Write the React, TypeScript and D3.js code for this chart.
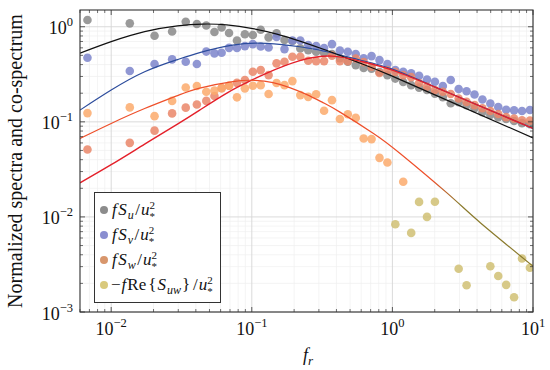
import React from 'react';
import * as d3 from 'd3';

const freq = [0.00678, 0.01356, 0.02034, 0.02712, 0.0339, 0.04068, 0.04746, 0.05424, 0.06102, 0.06889,
  0.07843, 0.08929, 0.1017, 0.1157, 0.1317, 0.15, 0.1708, 0.1944, 0.2213, 0.252,
  0.2869, 0.3266, 0.3718, 0.4233, 0.4819, 0.5486, 0.6245, 0.711, 0.8094, 0.9214,
  1.049, 1.194, 1.36, 1.548, 1.762, 2.006, 2.284, 2.6, 2.96, 3.37,
  3.837, 4.368, 4.972, 5.661, 6.444, 7.336, 8.352, 9.508];

const specU = [1.176, 1.086, 0.804, 0.890, 1.129, 1.068, 1.030, 0.880, 0.981, 0.858,
  0.716, 0.834, 0.818, 0.930, 0.773, 0.852, 0.724, 0.707, 0.592, 0.568,
  0.545, 0.532, 0.516, 0.468, 0.430, 0.395, 0.368, 0.363, 0.334, 0.310,
  0.285, 0.262, 0.243, 0.229, 0.216, 0.198, 0.182, 0.157, 0.161, 0.150,
  0.139, 0.126, 0.118, 0.112, 0.107, 0.102, 0.0969, 0.0946];

const specV = [0.472, 0.342, 0.405, 0.454, 0.428, 0.405, 0.548, 0.525, 0.532, 0.600,
  0.597, 0.626, 0.657, 0.619, 0.604, 0.779, 0.582, 0.716, 0.716, 0.642,
  0.626, 0.597, 0.657, 0.562, 0.545, 0.516, 0.465, 0.491, 0.446, 0.405,
  0.350, 0.336, 0.323, 0.305, 0.279, 0.264, 0.238, 0.275, 0.221, 0.210,
  0.194, 0.172, 0.156, 0.143, 0.134, 0.132, 0.130, 0.133];

const specW = [0.0512, 0.0601, 0.0808, 0.1226, 0.141, 0.152, 0.166, 0.187, 0.226, 0.240,
  0.257, 0.275, 0.336, 0.350, 0.310, 0.412, 0.428, 0.483, 0.483, 0.439,
  0.435, 0.435, 0.497, 0.435, 0.435, 0.463, 0.425, 0.379, 0.326, 0.350,
  0.334, 0.310, 0.295, 0.256, 0.235, 0.216, 0.207, 0.196, 0.176, 0.162,
  0.150, 0.139, 0.130, 0.121, 0.112, 0.108, 0.104, 0.103];

// co-spectrum, lower band (orange markers), aligned with freq
const cospecUWLow = [0.1235, 0.1418, 0.1148, 0.166, 0.230, 0.238, 0.207, 0.213, 0.226, 0.240,
  0.181, 0.225, 0.240, 0.243, 0.196, 0.256, 0.243, 0.268, 0.191, 0.183,
  0.195, 0.131, 0.169, 0.107, 0.120, 0.110, 0.0669, 0.0658, 0.0418, 0.0374,
  null, 0.0234];

// co-spectrum, upper band (olive markers)
const cospecUWHighFreq = [1.049, 1.36, 1.548, 1.762, 2.006, 2.96, 3.37, 4.972, 5.661, 6.444, 7.336, 8.352, 9.508];
const cospecUWHigh = [0.00838, 0.00679, 0.01438, 0.0100, 0.01445, 0.00285, 0.00191, 0.00303, 0.00239, 0.00193, 0.00143, 0.00365, 0.00292];

// model curves
const modelFreqU = [0.006, 0.01, 0.0173, 0.0296, 0.0447, 0.0663, 0.1016, 0.1508, 0.2198, 0.3424, 0.5886, 0.9788, 2.94, 10];
const modelU = [0.5286, 0.6984, 0.8902, 1.0221, 1.0676, 1.0471, 0.9574, 0.8379, 0.7071, 0.5619, 0.4148, 0.3064, 0.1499, 0.0677];

const modelFreqV = [0.006, 0.01, 0.0173, 0.0296, 0.0426, 0.0732, 0.1279, 0.2198, 0.3424, 0.5886, 1.0, 2.26, 10];
const modelV = [0.1328, 0.2157, 0.336, 0.4517, 0.5352, 0.6417, 0.6688, 0.616, 0.5455, 0.4467, 0.358, 0.216, 0.0852];

const modelFreqW = [0.006, 0.01, 0.0173, 0.0296, 0.0426, 0.0674, 0.0968, 0.1279, 0.2198, 0.3717, 0.5886, 1.0, 2.26, 10];
const modelW = [0.0228, 0.0354, 0.0582, 0.0946, 0.1328, 0.203, 0.2682, 0.3256, 0.4406, 0.4914, 0.4355, 0.35, 0.216, 0.0852];

const modelFreqUW = [0.006, 0.01, 0.0173, 0.0296, 0.0426, 0.0732, 0.1051, 0.1413, 0.186, 0.2466, 0.321, 0.4238, 0.729, 1.135, 2.454, 4.218, 10];
const modelUW = [0.0669, 0.0962, 0.138, 0.1888, 0.2263, 0.265, 0.2728, 0.2586, 0.2291, 0.1933, 0.1592, 0.1265, 0.076, 0.0465, 0.01777, 0.00869, 0.00303];

const xMajor = [0.01, 0.1, 1, 10];
const xMajorExp = ['−2', '−1', '0', '1'];
const yMajor = [0.001, 0.01, 0.1, 1];
const yMajorExp = ['−3', '−2', '−1', '0'];

const SERIF = 'Liberation Serif, DejaVu Serif, serif';

export default function App() {
  const L = 80, R = 533, T = 10, B = 312;
  const x = d3.scaleLog().domain([0.006, 10]).range([L, R]);
  const y = d3.scaleLog().domain([0.001, 1.5]).range([B, T]);

  const xMinor: number[] = [];
  for (let d = -3; d <= 0; d++) for (let k = 2; k <= 9; k++) {
    const v = k * Math.pow(10, d);
    if (v >= 0.006 && v <= 10) xMinor.push(v);
  }
  const yMinor: number[] = [];
  for (let d = -3; d <= 0; d++) for (let k = 2; k <= 9; k++) {
    const v = k * Math.pow(10, d);
    if (v >= 0.001 && v <= 1.5) yMinor.push(v);
  }

  const line = d3.line<[number, number]>()
    .x(d => x(d[0]))
    .y(d => y(d[1]))
    .curve(d3.curveNatural);
  const mk = (fx: number[], fy: number[]) => line(fx.map((f, i) => [f, fy[i]] as [number, number])) || '';

  const r = 4.3;
  const dots = (fx: number[], vals: (number | null)[], color: string, key: string) =>
    vals.map((v, i) => v == null ? null : (
      <circle key={key + i} cx={x(fx[i])} cy={y(v)} r={r} fill={color} fillOpacity={0.85} />
    ));

  const legendItems = [
    { color: '#8c8c8c', label: 'u' },
    { color: '#8a8ed0', label: 'v' },
    { color: '#d8966c', label: 'w' },
    { color: '#d9c97c', label: 'uw' },
  ];

  const txt = { fontFamily: SERIF };

  return (
    <svg width={550} height={370} style={{ position: 'absolute', left: 0, top: 0, background: '#fff' }}>
      <defs>
        <clipPath id="plotClip"><rect x={L} y={T} width={R - L} height={B - T} /></clipPath>
        <linearGradient id="uwGrad" gradientUnits="userSpaceOnUse" x1={x(1.9)} y1={0} x2={x(3.0)} y2={0}>
          <stop offset="0" stopColor="#ee4f2a" />
          <stop offset="1" stopColor="#8a7a2c" />
        </linearGradient>
      </defs>
      <rect x={L} y={T} width={R - L} height={B - T} fill="#fff" />
      {xMinor.map((v, i) => <line key={'xm' + i} x1={x(v)} x2={x(v)} y1={T} y2={B} stroke="#efefef" strokeWidth={0.7} />)}
      {yMinor.map((v, i) => <line key={'ym' + i} x1={L} x2={R} y1={y(v)} y2={y(v)} stroke="#efefef" strokeWidth={0.7} />)}
      {xMajor.map((v, i) => <line key={'xM' + i} x1={x(v)} x2={x(v)} y1={T} y2={B} stroke="#d6d6d6" strokeWidth={0.9} />)}
      {yMajor.map((v, i) => <line key={'yM' + i} x1={L} x2={R} y1={y(v)} y2={y(v)} stroke="#d6d6d6" strokeWidth={0.9} />)}

      <g clipPath="url(#plotClip)">
        {dots(freq, specU, '#888888', 'u')}
        {dots(freq, specV, '#7d85cb', 'v')}
        {dots(freq, specW, '#ea8668', 'w')}
        {dots(freq, cospecUWLow, '#fbaa6c', 'uwl')}
        {dots(cospecUWHighFreq, cospecUWHigh, '#d0c073', 'uwh')}

        <path d={mk(modelFreqV, modelV)} fill="none" stroke="#2c4c9c" strokeWidth={1.2} />
        <path d={mk(modelFreqU, modelU)} fill="none" stroke="#111" strokeWidth={1.2} />
        <path d={mk(modelFreqW, modelW)} fill="none" stroke="#e4202a" strokeWidth={1.4} />
        <path d={mk(modelFreqUW, modelUW)} fill="none" stroke="url(#uwGrad)" strokeWidth={1.2} />
      </g>

      {xMinor.map((v, i) => (
        <g key={'xtm' + i} stroke="#333" strokeWidth={0.7}>
          <line x1={x(v)} x2={x(v)} y1={B} y2={B - 3} />
          <line x1={x(v)} x2={x(v)} y1={T} y2={T + 3} />
        </g>
      ))}
      {yMinor.map((v, i) => (
        <g key={'ytm' + i} stroke="#333" strokeWidth={0.7}>
          <line x1={L} x2={L + 3} y1={y(v)} y2={y(v)} />
          <line x1={R} x2={R - 3} y1={y(v)} y2={y(v)} />
        </g>
      ))}
      {xMajor.map((v, i) => (
        <g key={'xtM' + i} stroke="#333" strokeWidth={0.8}>
          <line x1={x(v)} x2={x(v)} y1={B} y2={B - 5} />
          <line x1={x(v)} x2={x(v)} y1={T} y2={T + 5} />
        </g>
      ))}
      {yMajor.map((v, i) => (
        <g key={'ytM' + i} stroke="#333" strokeWidth={0.8}>
          <line x1={L} x2={L + 5} y1={y(v)} y2={y(v)} />
          <line x1={R} x2={R - 5} y1={y(v)} y2={y(v)} />
        </g>
      ))}
      <rect x={L} y={T} width={R - L} height={B - T} fill="none" stroke="#333" strokeWidth={1.1} />

      {xMajor.map((v, i) => (
        <text key={'xl' + i} x={x(v)} y={B + 23} textAnchor="middle" fontSize={18} fill="#111" style={txt}>
          10<tspan fontSize={12.5} dy={-8}>{xMajorExp[i]}</tspan>
        </text>
      ))}
      {yMajor.map((v, i) => (
        <text key={'yl' + i} x={73} y={y(v) + 7.5} textAnchor="end" fontSize={18} fill="#111" style={txt}>
          10<tspan fontSize={12.5} dy={-8}>{yMajorExp[i]}</tspan>
        </text>
      ))}

      <text x={303} y={361} fontSize={18} fontStyle="italic" fill="#111" style={txt}>
        f<tspan fontSize={13} dy={4}>r</tspan>
      </text>
      <text transform="translate(22,161) rotate(-90)" textAnchor="middle" fontSize={20} fill="#111" style={txt}>
        Normalized spectra and co-spectrum
      </text>

      <rect x={94.5} y={192.5} width={126} height={110} fill="#fff" stroke="#333" strokeWidth={1} />
      {legendItems.map((it, i) => {
        const ly = 210 + i * 25;
        return (
          <g key={'lg' + i}>
            <circle cx={104} cy={ly} r={4} fill={it.color} />
            {it.label !== 'uw' ? (
              <text x={112} y={ly + 5} fontSize={17} fill="#111" style={txt}>
                <tspan fontStyle="italic">f</tspan>
                <tspan fontStyle="italic" dx={1.5}>S</tspan>
                <tspan fontStyle="italic" fontSize={12} dy={4} dx={1}>{it.label}</tspan>
                <tspan dy={-4} dx={1.5}>/</tspan>
                <tspan fontStyle="italic" dx={1}>u</tspan>
                <tspan fontSize={11} dy={5}>*</tspan>
                <tspan fontSize={11} dx={-5.5} dy={-11}>2</tspan>
              </text>
            ) : (
              <text x={111} y={ly + 5} fontSize={17} fill="#111" style={txt}>
                <tspan>−</tspan>
                <tspan fontStyle="italic" dx={1}>f</tspan>
                <tspan dx={1}>Re</tspan>
                <tspan dx={2}>{'{'}</tspan>
                <tspan fontStyle="italic" dx={1}>S</tspan>
                <tspan fontStyle="italic" fontSize={12} dy={4} dx={1}>uw</tspan>
                <tspan dy={-4} dx={1}>{'}'}</tspan>
                <tspan dx={3}>/</tspan>
                <tspan fontStyle="italic" dx={1}>u</tspan>
                <tspan fontSize={11} dy={5}>*</tspan>
                <tspan fontSize={11} dx={-5.5} dy={-11}>2</tspan>
              </text>
            )}
          </g>
        );
      })}
    </svg>
  );
}
